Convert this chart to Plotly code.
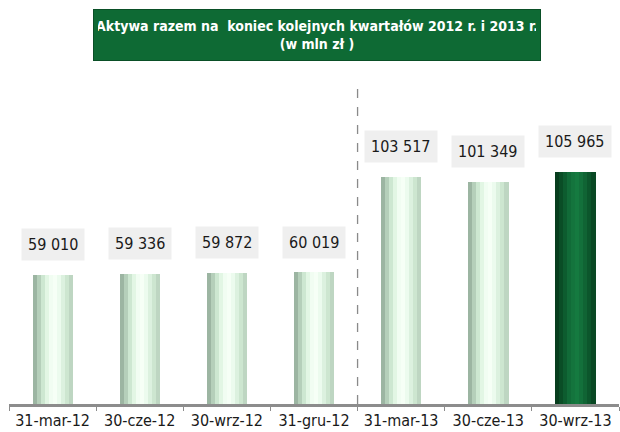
import plotly.graph_objects as go

categories = ["31-mar-12", "30-cze-12", "30-wrz-12", "31-gru-12",
              "31-mar-13", "30-cze-13", "30-wrz-13"]
values = [59010, 59336, 59872, 60019, 103517, 101349, 105965]
labels = ["59 010", "59 336", "59 872", "60 019", "103 517", "101 349", "105 965"]
highlight = [False, False, False, False, False, False, True]

FONT = "DejaVu Sans Condensed, Liberation Sans, sans-serif"

# cylinder-like shading: strips across each bar (left -> right)
light_strips = ["#9cb5a2", "#b5cfba", "#cde7d1", "#e2f6e4", "#f1fdf2",
                "#f6fff6", "#ecfbee", "#dcf1df", "#cde6d0", "#bed6c2"]
dark_strips = ["#073d1d", "#0a4d26", "#0d5c2f", "#116b38", "#14743d",
               "#157a40", "#13703b", "#106434", "#0c562c", "#094824"]

bar_w = 0.46
n = len(light_strips)
sw = bar_w / n

fig = go.Figure()
for i in range(n):
    cols = [dark_strips[i] if h else light_strips[i] for h in highlight]
    fig.add_trace(go.Bar(
        x=categories, y=values,
        width=[sw * 1.05] * len(values),
        offset=-bar_w / 2 + i * sw,
        marker=dict(color=cols, line=dict(width=0)),
        hoverinfo="skip", showlegend=False,
    ))

for c, v, t in zip(categories, values, labels):
    fig.add_annotation(x=c, y=v, text=t, showarrow=False, yshift=30,
                       font=dict(family=FONT, size=16, color="#1a1a1a"),
                       bgcolor="#efefef", borderpad=6)

# divider between 2012 and 2013
fig.add_shape(type="line", xref="x", yref="paper", x0=3.5, x1=3.5, y0=0, y1=0.985,
              line=dict(color="#8a8a8a", width=1.3, dash="dash"))

# title box
fig.add_annotation(xref="paper", yref="paper", x=0.505, y=1.0, yanchor="bottom",
                   xanchor="center",
                   text="<b>Aktywa razem na  koniec kolejnych kwartałów 2012 r. i 2013 r.</b><br><b>(w mln zł )</b>",
                   showarrow=False, align="center", width=438, height=42,
                   font=dict(family=FONT, size=14, color="white"),
                   bgcolor="#0e6a34", bordercolor="#0a4f27", borderwidth=1,
                   borderpad=4, yshift=14)

fig.update_layout(
    width=620, height=432,
    margin=dict(l=9, r=1, t=75, b=28),
    paper_bgcolor="white", plot_bgcolor="white",
    barmode="overlay", bargap=0,
    xaxis=dict(type="category", showgrid=False, showline=True,
               linecolor="#8c8c8c", linewidth=3, ticks="outside",
               tickson="boundaries", ticklen=4, tickcolor="#8c8c8c",
               tickfont=dict(family=FONT, size=16, color="#1a1a1a"),
               range=[-0.5, 6.5]),
    yaxis=dict(visible=False, range=[0, 150000]),
)

fig.write_html("out.html", config={"displayModeBar": False},
               post_script="document.body.style.margin='0';")
